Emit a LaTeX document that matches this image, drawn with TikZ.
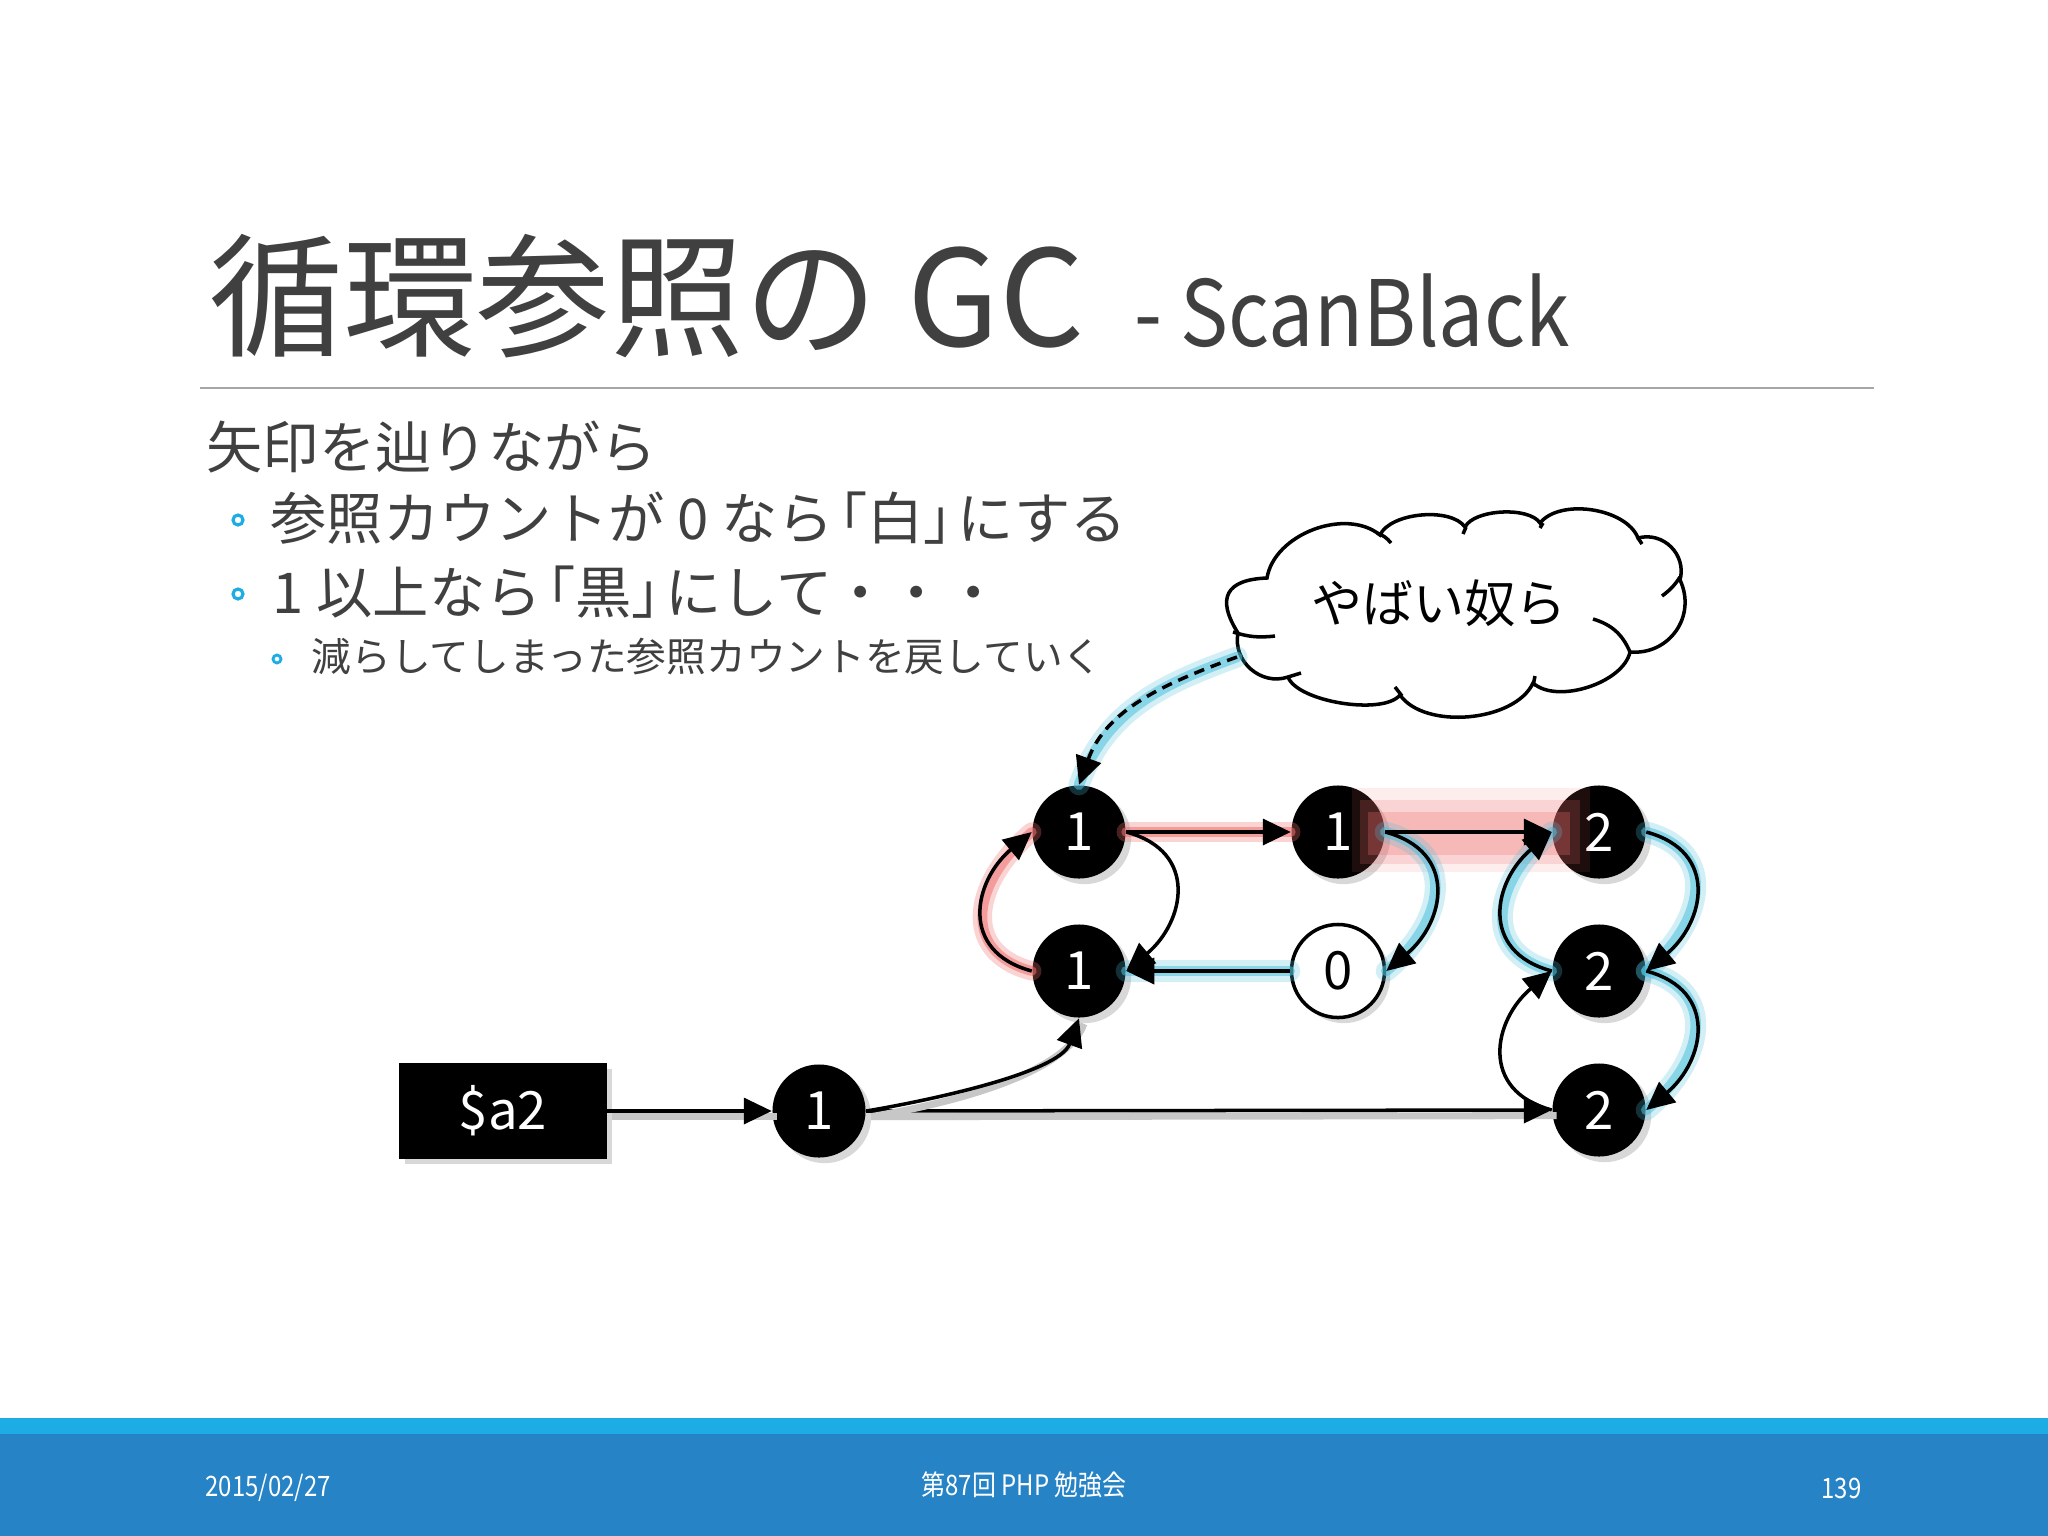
\documentclass[tikz,border=0pt]{standalone}
\usepackage{fontspec}
\setmainfont{Noto Sans CJK JP}
\newfontfamily\subfont[FakeStretch=0.88]{Noto Sans CJK JP}
\newfontfamily\footfont[FakeStretch=0.85]{Noto Sans CJK JP}
\newfontfamily\halffont[RawFeature=+halt]{Noto Sans CJK JP}
\newcommand{\lbk}{\hspace{0.1em}{\halffont 「}}
\newcommand{\rbk}{{\halffont 」}\hspace{0.1em}}
\usetikzlibrary{arrows.meta,shadows}
\definecolor{txt}{HTML}{404040}
\definecolor{glowc}{HTML}{4DC0DE}
\definecolor{glowr}{HTML}{F07070}
\definecolor{bandlight}{HTML}{1DADE4}
\definecolor{banddark}{HTML}{2683C6}
\definecolor{bulletc}{HTML}{1DADE4}
\definecolor{rulegray}{HTML}{A6A6A6}
\begin{document}
\begin{tikzpicture}[x=0.01cm,y=0.01cm,
  obj/.style={circle, minimum size=0.93cm, inner sep=0, fill=black, text=white,
    font=\fontsize{15}{15}\selectfont,
    drop shadow={shadow xshift=1.6pt, shadow yshift=-1.6pt, opacity=0.3}},
  wobj/.style={obj, fill=white, draw=black, line width=1pt, text=black},
  varbox/.style={rectangle, minimum width=2.07cm, minimum height=0.95cm, inner sep=0,
    fill=black, text=white, font=\fontsize{15}{15}\selectfont,
    drop shadow={shadow xshift=1.6pt, shadow yshift=-1.6pt, opacity=0.3}},
  cloudline/.style={draw=black, line width=1pt},
  edge/.style={draw=black, line width=1pt, -{Triangle[length=2.8mm,width=2.6mm]}},
  eshadow/.style={preaction={draw=black!22, line width=2pt, arrows=-,
    transform canvas={shift={(1.4pt,-1.6pt)}}}},
  glowC/.style={draw=glowc, line width=6pt, opacity=0.25, line cap=round},
  glowCi/.style={draw=glowc, line width=3pt, opacity=0.55, line cap=round},
  glowR/.style={draw=glowr, line width=5.5pt, opacity=0.3, line cap=round},
  glowRi/.style={draw=glowr, line width=2.8pt, opacity=0.55, line cap=round},
  rloop/.style={out=-15, in=40, looseness=1.4},
  lloop/.style={out=165, in=220, looseness=1.4},
  body/.style={inner sep=0, text=txt, font=\fontsize{16}{16}\selectfont},
  small/.style={inner sep=0, text=txt, font=\fontsize{11.3}{11.3}\selectfont},
  foot/.style={inner sep=0, text=white, font=\footfont\fontsize{8}{8}\selectfont}
]
\useasboundingbox (0,0) rectangle (2048,-1536);
\fill[white] (0,0) rectangle (2048,-1536);

% title
\node[anchor=base west, inner sep=0, text=txt, font=\fontsize{38}{38}\selectfont] (T1) at (209,-346) {循環参照の GC};
\node[anchor=base west, inner sep=0, text=txt, font=\subfont\fontsize{26}{26}\selectfont] (T2) at (1134,-346) {- ScanBlack};
\draw[rulegray, line width=0.6pt] (200,-388) -- (1874,-388);

% body text
\node[body, anchor=west] (L0) at (206,-447) {矢印を辿りながら};
\draw[bulletc, line width=0.9pt] (238,-520) circle (5);
\node[body, anchor=west] (L1) at (270,-518) {参照カウントが 0 なら\lbk 白\rbk にする};
\draw[bulletc, line width=0.9pt] (238,-594) circle (5);
\node[body, anchor=west] (L2) at (272,-592) {1 以上なら\lbk 黒\rbk にして・・・};
\draw[bulletc, line width=0.8pt] (277,-659) circle (4);
\node[small, anchor=west] (L3) at (311,-657) {減らしてしまった参照カウントを戻していく};

% cloud outline
\path[cloudline, fill=white]
  (1238,-633) to[bend left=60, looseness=1.7] (1267,-578)
  to[bend left=60, looseness=0.94] (1380,-535)
  to[bend left=60, looseness=0.74] (1465,-527)
  to[bend left=60, looseness=0.68] (1540,-523)
  to[bend left=60, looseness=0.83] (1638,-538)
  to[bend left=60, looseness=1.13] (1680,-580)
  to[bend left=60, looseness=1.16] (1630,-652)
  to[bend left=60, looseness=0.8] (1533,-683)
  to[bend left=60, looseness=0.82] (1400,-695)
  to[bend left=60, looseness=0.6] (1288,-677)
  to[bend left=60, looseness=1.1] (1238,-633);
\draw[cloudline] (1377,-533) to[bend left=15] (1391,-543);
\draw[cloudline] (1463,-534) -- (1466,-527);
\draw[cloudline] (1540,-528) -- (1543,-523);
\draw[cloudline] (1638,-538) -- (1642,-544);
\draw[cloudline] (1680,-577) to[bend left=10] (1662,-596);
\draw[cloudline] (1593,-619) to[bend left=25] (1630,-652);
\draw[cloudline] (1535,-676) -- (1533,-686);
\draw[cloudline] (1395,-687) -- (1402,-696);
\draw[cloudline] (1288,-677) -- (1301,-673);
\draw[cloudline] (1233,-632) to[bend right=12] (1275,-636);
\node[inner sep=0, font=\fontsize{14.5}{14.5}\selectfont] (Y) at (1439,-603) {やばい奴ら};
\coordinate (Ys) at (1237,-657);

% nodes
\node[obj] (A) at (1079,-832) {1};
\node[obj] (B) at (1079,-971) {1};
\node[obj] (C) at (1338,-832) {1};
\node[wobj] (D) at (1338,-971) {0};
\node[obj] (E) at (1599,-832) {2};
\node[obj] (F) at (1599,-971) {2};
\node[obj] (G) at (1599,-1110) {2};
\node[obj] (H) at (819,-1111) {1};
\node[varbox] (V) at (503,-1111) {\$a2};

% glows (red)
\path[glowR] (A.east) -- (C.west);
\path[glowRi] (A.east) -- (C.west);
\path[glowR] (B.west) to[lloop] (A.west);
\path[glowRi] (B.west) to[lloop] (A.west);
% red band between C and E
\fill[glowr, opacity=0.12] (1352,-788) rectangle (1590,-872);
\fill[glowr, opacity=0.2] (1360,-800) rectangle (1580,-864);
\fill[glowr, opacity=0.28] (1368,-812) rectangle (1570,-855);

% glows (cyan)
\path[glowC] (C.east) to[rloop] (D.east);
\path[glowCi] (C.east) to[rloop] (D.east);
\path[glowC] (D.west) -- (B.east);
\path[glowCi] (D.west) -- (B.east);
\path[glowC] (E.east) to[rloop] (F.east);
\path[glowCi] (E.east) to[rloop] (F.east);
\path[glowC] (F.east) to[rloop] (G.east);
\path[glowCi] (F.east) to[rloop] (G.east);
\path[glowC] (F.west) to[lloop] (E.west);
\path[glowCi] (F.west) to[lloop] (E.west);
\path[glowC] (Ys) to[out=200, in=70] (A.north);
\path[glowCi] (Ys) to[out=200, in=70] (A.north);

% edges
\draw[edge, eshadow] (V.east) -- (H.west);
\draw[edge, eshadow] (H.east) -- (G.west);
\draw[edge, eshadow] (H.east) .. controls +(60,10) and +(-20,-55) .. (B.south);
\draw[edge] (A.east) -- (C.west);
\draw[edge] (C.east) -- (E.west);
\draw[edge] (D.west) -- (B.east);
\draw[edge] (A.east) to[rloop] (B.east);
\draw[edge] (B.west) to[lloop] (A.west);
\draw[edge] (C.east) to[rloop] (D.east);
\draw[edge] (E.east) to[rloop] (F.east);
\draw[edge] (F.east) to[rloop] (G.east);
\draw[edge] (F.west) to[lloop] (E.west);
\draw[edge] (G.west) to[lloop] (F.west);
\draw[edge, dash pattern=on 3pt off 2pt] (Ys) to[out=200, in=70] (A.north);

% footer
\fill[bandlight] (0,-1418) rectangle (2048,-1434);
\fill[banddark] (0,-1434) rectangle (2048,-1536);
\node[foot, anchor=west] (F1) at (205,-1488) {2015/02/27};
\node[foot] (F2) at (1024,-1485) {第87回 PHP 勉強会};
\node[foot, anchor=east] (F3) at (1862,-1488) {139};
\end{tikzpicture}
\end{document}
